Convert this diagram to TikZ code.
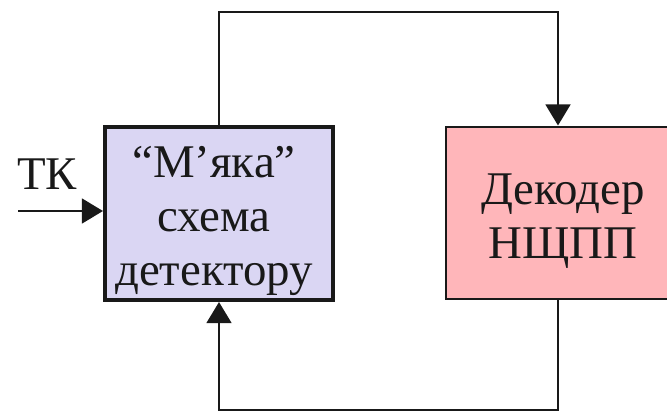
\documentclass[tikz,border=0pt]{standalone}
\usepackage{fontspec}
\setmainfont{Liberation Serif}
\usetikzlibrary{arrows.meta}
\definecolor{detfill}{RGB}{218,214,243}
\definecolor{decfill}{RGB}{255,182,186}
\begin{document}
\begin{tikzpicture}[x=0.03cm,y=-0.03cm,
    line width=2.5pt, color={black!90},
    >={Triangle[width=21pt,length=18pt]},
    every node/.style={font=\fontsize{40}{46}\selectfont, align=center, inner sep=0pt},
    detbox/.style={draw, line width=3.4pt, fill=detfill, minimum width=6.84cm, minimum height=5.19cm},
    decbox/.style={draw, line width=2.5pt, fill=decfill, minimum width=6.72cm, minimum height=5.16cm}]
    \useasboundingbox (0,0) rectangle (667,412);
    \node[detbox] (det) at (219,213.5) {};
    \node (dettext) at (214,221) {“М’яка”\\схема\\детектору};
    \node[decbox] (dec) at (558,213) {};
    \node (dectext) at (563,221) {Декодер\\НЩПП};
    \node (tk) at (47,174) {ТК};
    \coordinate (tkin) at (18,211);
    \coordinate (top) at (0,12);
    \coordinate (bot) at (0,410);
    \draw[->] (tkin) -- (det.west |- tkin);
    \draw[->] (det.north) -- (det.north |- top) -| (dec.north);
    \draw[->] (dec.south) -- (dec.south |- bot) -| (det.south);
\end{tikzpicture}
\end{document}
